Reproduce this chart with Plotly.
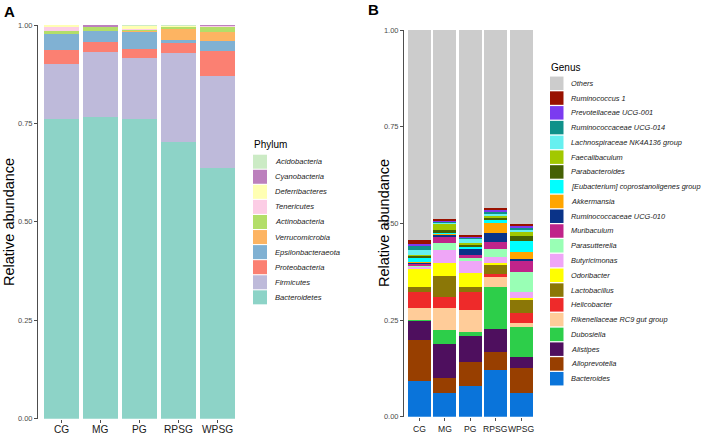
import plotly.graph_objects as go

W, H = 701, 435

groups = ["CG", "MG", "PG", "RPSG", "WPSG"]

# ---------------- Panel A: Phylum (bottom -> top) ----------------
phyla = ["Bacteroidetes", "Firmicutes", "Proteobacteria", "Epsilonbacteraeota",
         "Verrucomicrobia", "Actinobacteria", "Tenericutes", "Deferribacteres",
         "Cyanobacteria", "Acidobacteria"]
phylum_colors = ["#8DD3C7", "#BEBADA", "#FB8072", "#80B1D3", "#FDB462",
                 "#B3DE69", "#FCCDE5", "#FFFFB3", "#BC80BD", "#CCEBC5"]
bacteroidetes = [0.761, 0.766, 0.761, 0.704, 0.636]
firmicutes = [0.139, 0.166, 0.156, 0.225, 0.234]
proteobacteria = [0.0375, 0.025, 0.0215, 0.025, 0.063]
epsilonbacteraeota = [0.0405, 0.028, 0.0445, 0.007, 0.027]
verrucomicrobia = [0.001, 0.001, 0.002, 0.028, 0.022]
actinobacteria = [0.005, 0.009, 0.003, 0.007, 0.014]
tenericutes = [0.010, 0.001, 0.001, 0.001, 0.003]
deferribacteres = [0.006, 0.001, 0.010, 0.0005, 0.0005]
cyanobacteria = [0.0005, 0.003, 0.0005, 0.0005, 0.0005]
acidobacteria = [0.0005, 0.0, 0.0005, 0.002, 0.0]
phylum_values = [bacteroidetes, firmicutes, proteobacteria, epsilonbacteraeota,
                 verrucomicrobia, actinobacteria, tenericutes, deferribacteres,
                 cyanobacteria, acidobacteria]

# ---------------- Panel B: Genus (bottom -> top) ----------------
genera = ["Bacteroides", "Alloprevotella", "Alistipes", "Dubosiella",
          "Rikenellaceae RC9 gut group", "Helicobacter", "Lactobacillus",
          "Odoribacter", "Butyricimonas", "Parasutterella", "Muribaculum",
          "Ruminococcaceae UCG-010", "Akkermansia",
          "[Eubacterium] coprostanoligenes group", "Parabacteroides",
          "Faecalibaculum", "Lachnospiraceae NK4A136 group",
          "Ruminococcaceae UCG-014", "Prevotellaceae UCG-001",
          "Ruminococcus 1", "Others"]
genus_colors = ["#0A74DA", "#983F00", "#4E0F5E", "#2DCE4A", "#FFCC99",
                "#EE2A2A", "#8B7707", "#FFFF00", "#EFA6F7", "#99FFB5",
                "#C0248A", "#0A3388", "#FFA500", "#00FFFF", "#456104",
                "#A2C800", "#66F0F0", "#0F918A", "#7B3BF0", "#991100",
                "#CCCCCC"]
bacteroides = [0.092, 0.062, 0.079, 0.121, 0.062]
alloprevotella = [0.106, 0.039, 0.062, 0.047, 0.063]
alistipes = [0.050, 0.087, 0.068, 0.058, 0.029]
dubosiella = [0.003, 0.036, 0.011, 0.110, 0.077]
rikenellaceae_rc9 = [0.029, 0.058, 0.056, 0.026, 0.012]
helicobacter = [0.043, 0.028, 0.046, 0.007, 0.024]
lactobacillus = [0.012, 0.054, 0.013, 0.025, 0.035]
odoribacter = [0.048, 0.033, 0.036, 0.004, 0.004]
butyricimonas = [0.005, 0.034, 0.032, 0.016, 0.016]
parasutterella = [0.003, 0.017, 0.007, 0.019, 0.052]
muribaculum = [0.005, 0.019, 0.007, 0.019, 0.029]
ruminococcaceae_ucg010 = [0.003, 0.005, 0.017, 0.022, 0.004]
akkermansia = [0.001, 0.001, 0.002, 0.028, 0.020]
eubacterium_copro = [0.012, 0.002, 0.003, 0.007, 0.028]
parabacteroides = [0.005, 0.0086, 0.007, 0.006, 0.012]
faecalibaculum = [0.002, 0.0155, 0.004, 0.006, 0.011]
lachnospiraceae_nk4a136 = [0.013, 0.004, 0.010, 0.005, 0.007]
ruminococcaceae_ucg014 = [0.009, 0.002, 0.003, 0.005, 0.004]
prevotellaceae_ucg001 = [0.006, 0.003, 0.003, 0.004, 0.006]
ruminococcus_1 = [0.010, 0.002, 0.003, 0.004, 0.004]
others = [0.543, 0.490, 0.531, 0.461, 0.501]
genus_values = [bacteroides, alloprevotella, alistipes, dubosiella,
                rikenellaceae_rc9, helicobacter, lactobacillus, odoribacter,
                butyricimonas, parasutterella, muribaculum,
                ruminococcaceae_ucg010, akkermansia, eubacterium_copro,
                parabacteroides, faecalibaculum, lachnospiraceae_nk4a136,
                ruminococcaceae_ucg014, prevotellaceae_ucg001, ruminococcus_1,
                others]

y_ticks = [0.0, 0.25, 0.5, 0.75, 1.0]
y_ticktext = ["0.00", "0.25", "0.50", "0.75", "1.00"]


def xp(px):
    return px / W


def yp(py):
    return 1 - py / H


FONT = "Liberation Sans, Arial, Helvetica, sans-serif"

fig = go.Figure()

for name, col, vals in zip(phyla, phylum_colors, phylum_values):
    fig.add_trace(go.Bar(x=groups, y=vals, name=name, marker_color=col,
                         marker_line_width=0, xaxis="x", yaxis="y",
                         showlegend=False))

for name, col, vals in zip(genera, genus_colors, genus_values):
    fig.add_trace(go.Bar(x=groups, y=vals, name=name, marker_color=col,
                         marker_line_width=0, xaxis="x2", yaxis="y2",
                         showlegend=False))

axis_common_y = dict(range=[0, 1], tickvals=y_ticks, ticktext=y_ticktext,
                     showgrid=False, zeroline=False, showline=True,
                     linecolor="#4D4D4D", linewidth=1, ticks="outside",
                     ticklen=3, tickcolor="#4D4D4D", automargin=False,
                     tickfont=dict(size=7.5, color="#4D4D4D", family=FONT))
axis_common_x = dict(range=[-0.6, 4.6], showgrid=False, zeroline=False,
                     showline=False, ticks="outside", ticklen=3,
                     tickcolor="#4D4D4D", showticklabels=False,
                     automargin=False)

fig.update_layout(
    width=W, height=H,
    margin=dict(l=0, r=0, t=0, b=0, autoexpand=False),
    paper_bgcolor="white", plot_bgcolor="white",
    barmode="stack", bargap=0.1,
    showlegend=False,
    font=dict(family=FONT),
    xaxis=dict(domain=[xp(38), xp(241)], anchor="y", **axis_common_x),
    yaxis=dict(domain=[yp(418.7), yp(25)], anchor="x", **axis_common_y),
    xaxis2=dict(domain=[xp(404), xp(536.6)], anchor="y2", **axis_common_x),
    yaxis2=dict(domain=[yp(416.7), yp(30)], anchor="x2", **axis_common_y),
)

annotations = []
shapes = []

# x tick labels (category positions via the category axes)
for xref, label_y, fsize in [("x", 429.5, 10.2), ("x2", 428.5, 8.6)]:
    for g in groups:
        annotations.append(dict(x=g, y=yp(label_y), xref=xref, yref="paper",
                                text=g, showarrow=False, xanchor="center",
                                yanchor="middle",
                                font=dict(size=fsize, color="#1A1A1A",
                                          family=FONT)))

# panel letters
annotations.append(dict(x=xp(2), y=yp(11), xref="paper", yref="paper",
                        text="<b>A</b>", showarrow=False, xanchor="left",
                        yanchor="middle", font=dict(size=15, color="black",
                                                    family=FONT)))
annotations.append(dict(x=xp(366), y=yp(10), xref="paper", yref="paper",
                        text="<b>B</b>", showarrow=False, xanchor="left",
                        yanchor="middle", font=dict(size=15, color="black",
                                                    family=FONT)))

# y-axis titles
for xpx, ypx in [(9, 222), (384, 223)]:
    annotations.append(dict(x=xp(xpx), y=yp(ypx), xref="paper", yref="paper",
                            text="Relative abundance", textangle=-90,
                            showarrow=False, xanchor="center",
                            yanchor="middle",
                            font=dict(size=14.5, color="black", family=FONT)))


def draw_legend(title, names, colors, title_y, first_y, step, sw_x0, sw_size,
                text_x, fsize):
    annotations.append(dict(x=xp(sw_x0 - 1), y=yp(title_y), xref="paper",
                            yref="paper", text=title, showarrow=False,
                            xanchor="left", yanchor="middle",
                            font=dict(size=10, color="black", family=FONT)))
    for i, (n, c) in enumerate(zip(names, colors)):
        cy = first_y + step * i
        shapes.append(dict(type="rect", xref="paper", yref="paper",
                           x0=xp(sw_x0), x1=xp(sw_x0 + sw_size),
                           y0=yp(cy + sw_size / 2), y1=yp(cy - sw_size / 2),
                           fillcolor=c, line=dict(width=0)))
        annotations.append(dict(x=xp(text_x), y=yp(cy), xref="paper",
                                yref="paper", text="<i>" + n + "</i>",
                                showarrow=False, xanchor="left",
                                yanchor="middle",
                                font=dict(size=fsize, color="#1A1A1A",
                                          family=FONT)))


draw_legend("Phylum", phyla[::-1], phylum_colors[::-1], 145, 161.7, 15.07,
            253, 14, 273, 7.6)
draw_legend("Genus", genera[::-1], genus_colors[::-1], 68, 83.3, 14.77,
            550, 13.5, 569, 7.4)

fig.update_layout(annotations=annotations, shapes=shapes)

fig.write_html("out.html",
               config={"displayModeBar": False},
               post_script="document.body.style.margin='0px';"
                           "document.body.style.overflow='hidden';")
